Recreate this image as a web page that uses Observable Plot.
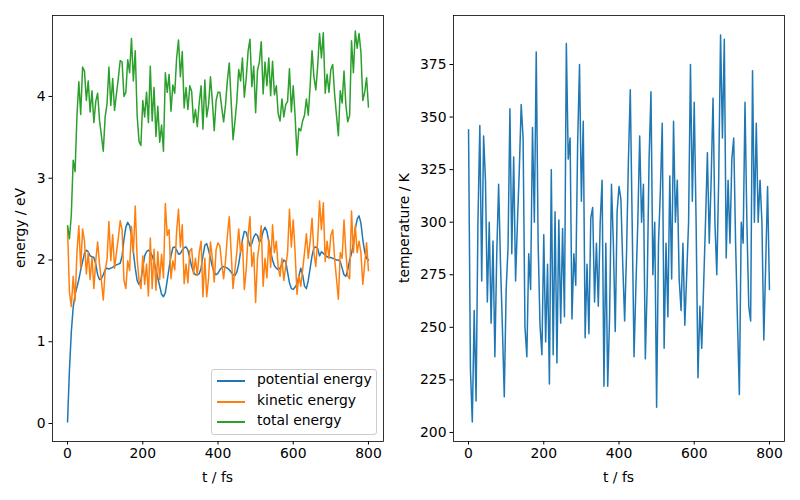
<!DOCTYPE html>
<html>
<head>
<meta charset="utf-8">
<script src="https://cdn.jsdelivr.net/npm/d3@7"></script>
<script src="https://cdn.jsdelivr.net/npm/@observablehq/plot@0.6"></script>
<style>
  body { margin: 0; background: #fff; font-family: "DejaVu Sans", sans-serif; }
  #fig { position: relative; width: 800px; height: 500px; overflow: hidden; background: #fff; }
  .panel { position: absolute; top: 0; }
  .lbl { position: absolute; font-size: 13.9px; color: #000; white-space: nowrap; line-height: 1; }
  .xl { transform: translate(-50%, -50%); }
  .yl { transform: translate(-50%, -50%) rotate(-90deg); }
  #legend { position: absolute; left: 211px; top: 369px; width: 164px; height: 64px;
            border: 1px solid #cccccc; border-radius: 3px; background: rgba(255,255,255,0.8);
            font-size: 13.9px; color: #000; }
  .row { position: absolute; left: 0; height: 20px; width: 100%; }
  .sw { position: absolute; left: 5px; top: 9px; width: 28px; height: 2px; }
  .tx { position: absolute; left: 45px; top: 2px; white-space: nowrap; line-height: 1; }
</style>
</head>
<body>
<div id="fig"></div>
<script>
// ---- data ----
const time = [
  0,5,10,15,20,25,30,35,40,45,
  50,55,60,65,70,75,80,85,90,95,
  100,105,110,115,120,125,130,135,140,145,
  150,155,160,165,170,175,180,185,190,195,
  200,205,210,215,220,225,230,235,240,245,
  250,255,260,265,270,275,280,285,290,295,
  300,305,310,315,320,325,330,335,340,345,
  350,355,360,365,370,375,380,385,390,395,
  400,405,410,415,420,425,430,435,440,445,
  450,455,460,465,470,475,480,485,490,495,
  500,505,510,515,520,525,530,535,540,545,
  550,555,560,565,570,575,580,585,590,595,
  600,605,610,615,620,625,630,635,640,645,
  650,655,660,665,670,675,680,685,690,695,
  700,705,710,715,720,725,730,735,740,745,
  750,755,760,765,770,775,780,785,790,795,
  800
];
const potentialEnergy = [
  0.02,0.65,1.12,1.42,1.58,1.67,1.76,1.88,1.98,2.08,
  2.12,2.10,2.05,2.04,2.03,1.95,1.82,1.76,1.77,1.82,
  1.88,1.90,1.89,1.90,1.91,1.93,1.94,1.95,1.96,2.05,
  2.25,2.40,2.46,2.42,2.30,2.10,1.90,1.75,1.70,1.75,
  1.90,2.05,2.10,2.12,2.10,2.05,1.98,1.88,1.78,1.68,
  1.58,1.55,1.60,1.75,1.90,2.05,2.15,2.16,2.12,2.07,
  2.08,2.12,2.15,2.16,2.12,2.02,1.92,1.85,1.82,1.82,
  1.83,1.90,2.05,2.18,2.20,2.12,2.02,1.92,1.85,1.82,
  1.84,1.88,1.91,1.92,1.91,1.90,1.88,1.85,1.82,1.81,
  1.85,1.95,2.10,2.25,2.35,2.34,2.25,2.17,2.20,2.28,
  2.32,2.30,2.22,2.25,2.35,2.40,2.35,2.22,2.10,2.00,
  1.93,1.90,1.88,1.90,1.95,2.00,1.98,1.85,1.72,1.65,
  1.64,1.67,1.70,1.80,1.90,1.82,1.68,1.65,1.75,1.90,
  2.05,2.15,2.16,2.14,2.05,2.10,2.08,2.06,2.04,2.03,
  2.03,2.02,2.01,2.00,2.00,1.98,1.90,1.82,1.80,1.88,
  2.00,2.08,2.20,2.38,2.50,2.54,2.45,2.25,2.10,2.02,
  2.00
];
const kineticEnergy = [
  2.40,1.61,1.43,1.80,1.50,2.09,2.42,1.90,2.38,2.23,
  1.83,2.09,1.76,2.03,1.65,1.99,2.22,1.95,1.75,1.51,
  1.87,2.01,2.47,1.99,2.31,1.90,2.09,2.27,2.48,2.37,
  1.75,1.65,1.99,1.87,2.41,2.09,2.66,2.02,1.75,1.65,
  2.05,1.70,1.95,1.56,2.27,1.65,2.13,1.63,2.10,1.76,
  2.07,1.78,2.69,2.30,2.37,1.77,1.99,1.88,2.35,2.62,
  2.16,2.43,1.71,1.95,1.72,2.11,2.14,1.83,2.02,1.81,
  2.09,2.23,1.55,2.02,1.55,1.78,2.22,2.02,1.73,2.13,
  2.21,2.17,1.95,1.77,1.99,2.30,2.53,2.09,1.65,1.88,
  2.09,2.38,2.09,2.22,1.64,1.88,2.30,2.53,1.92,2.09,
  1.48,2.02,2.20,2.42,1.68,2.02,1.78,2.25,1.91,2.43,
  2.09,2.23,1.91,1.80,2.02,1.75,1.92,2.09,2.62,2.16,
  2.49,2.09,1.58,1.81,1.68,1.88,2.09,2.32,2.02,2.23,
  2.51,2.09,1.92,2.23,2.72,2.37,2.70,1.98,2.23,2.02,
  2.30,2.37,2.02,1.77,1.52,2.09,2.02,2.49,2.09,1.81,
  1.77,2.60,2.09,2.42,2.09,2.23,2.09,1.70,1.95,2.21,
  1.87
];
const totalEnergy = [
  2.42,2.26,2.55,3.22,3.08,3.76,4.18,3.78,4.36,4.31,
  3.95,4.19,3.81,4.07,3.68,3.94,4.04,3.71,3.52,3.33,
  3.75,3.91,4.36,3.89,4.22,3.83,4.03,4.22,4.44,4.42,
  4.00,4.05,4.45,4.29,4.71,4.19,4.56,3.77,3.45,3.40,
  3.95,3.75,4.05,3.68,4.37,3.70,4.11,3.51,3.88,3.44,
  3.65,3.33,4.29,4.05,4.27,3.82,4.14,4.04,4.47,4.69,
  4.24,4.55,3.86,4.11,3.84,4.13,4.06,3.68,3.84,3.63,
  3.92,4.13,3.60,4.20,3.75,3.90,4.24,3.94,3.58,3.95,
  4.05,4.05,3.86,3.69,3.90,4.20,4.41,3.94,3.47,3.69,
  3.94,4.33,4.19,4.47,3.99,4.22,4.55,4.70,4.12,4.37,
  3.80,4.32,4.42,4.67,4.03,4.42,4.13,4.47,4.01,4.43,
  4.02,4.13,3.79,3.70,3.97,3.75,3.90,3.94,4.34,3.81,
  4.13,3.76,3.28,3.61,3.58,3.70,3.77,3.97,3.77,4.13,
  4.56,4.24,4.08,4.37,4.77,4.47,4.78,4.04,4.27,4.05,
  4.33,4.39,4.03,3.77,3.52,4.07,3.92,4.31,3.89,3.69,
  3.77,4.68,4.29,4.80,4.59,4.77,4.54,3.95,4.05,4.23,
  3.87
];
const temperature = [
  344,230,205,258,215,300,346,272,341,320,
  262,300,252,291,236,285,318,280,250,217,
  268,288,354,285,331,272,300,325,356,340,
  250,236,285,268,345,300,381,290,251,237,
  294,243,280,223,325,237,305,233,301,252,
  297,255,385,330,340,254,285,270,337,375,
  310,348,245,280,247,302,307,262,290,260,
  300,320,222,290,222,255,318,290,248,305,
  317,311,280,253,285,329,363,300,236,270,
  300,341,300,318,235,270,330,362,275,300,
  212,290,315,347,240,290,255,322,273,348,
  300,320,273,258,290,251,275,300,375,310,
  357,300,226,260,240,270,300,333,290,320,
  359,300,275,320,389,340,387,283,320,290,
  330,340,290,253,218,300,290,357,300,260,
  253,372,300,347,300,320,300,244,280,317,
  268
];
const seriesNames = ["potential energy", "kinetic energy", "total energy"];
const seriesColors = ["#1f77b4", "#ff7f0e", "#2ca02c"];
const timeTicks = [0, 200, 400, 600, 800];
const energyTicks = [0, 1, 2, 3, 4];
const temperatureTicks = [200, 225, 250, 275, 300, 325, 350, 375];
const xLabel = "t / fs";
const energyLabel = "energy / eV";
const temperatureLabel = "temperature / K";

// ---- drawing ----
const fig = document.getElementById("fig");
const style = { fontSize: "13.9px", fontFamily: "DejaVu Sans, sans-serif", color: "black", background: "transparent", overflow: "visible" };
const axisX = { domain: [-40, 840], ticks: timeTicks, tickSize: 3.5, tickPadding: 3.5, label: null, tickFormat: d3.format("d") };

const energyRows = [potentialEnergy, kineticEnergy, totalEnergy].map(arr => time.map((t, i) => ({ t, v: arr[i] })));

const left = Plot.plot({
  width: 400, height: 500,
  marginLeft: 52, marginRight: 17, marginTop: 15, marginBottom: 59,
  style,
  x: axisX,
  y: { domain: [-0.22, 4.99], ticks: energyTicks, tickSize: 3.5, tickPadding: 3.5, label: null, tickFormat: d3.format("d") },
  marks: [
    ...energyRows.map((rows, k) => Plot.line(rows, { x: "t", y: "v", stroke: seriesColors[k], strokeWidth: 1.5 })),
    Plot.frame({ stroke: "black", strokeWidth: 0.8 })
  ]
});
left.classList.add("panel");
left.style.left = "0px";
fig.appendChild(left);

const tempRows = time.map((t, i) => ({ t, v: temperature[i] }));
const right = Plot.plot({
  width: 400, height: 500,
  marginLeft: 53, marginRight: 16, marginTop: 15, marginBottom: 59,
  style,
  x: axisX,
  y: { domain: [195.7, 398.3], ticks: temperatureTicks, tickSize: 3.5, tickPadding: 3.5, label: null, tickFormat: d3.format("d") },
  marks: [
    Plot.line(tempRows, { x: "t", y: "v", stroke: seriesColors[0], strokeWidth: 1.5 }),
    Plot.frame({ stroke: "black", strokeWidth: 0.8 })
  ]
});
right.classList.add("panel");
right.style.left = "400px";
fig.appendChild(right);

function label(text, x, y, cls) {
  const d = document.createElement("div");
  d.className = "lbl " + cls;
  d.style.left = x + "px";
  d.style.top = y + "px";
  d.textContent = text;
  fig.appendChild(d);
}
label(xLabel, 217.5, 478, "xl");
label(xLabel, 618.5, 478, "xl");
label(energyLabel, 21, 228, "yl");
label(temperatureLabel, 405, 228, "yl");

const lg = document.createElement("div");
lg.id = "legend";
seriesNames.forEach((name, k) => {
  const r = document.createElement("div");
  r.className = "row";
  r.style.top = Math.round(1 + k * 20.5) + "px";
  const sw = document.createElement("div");
  sw.className = "sw";
  sw.style.background = seriesColors[k];
  const tx = document.createElement("div");
  tx.className = "tx";
  tx.textContent = name;
  r.appendChild(sw); r.appendChild(tx);
  lg.appendChild(r);
});
fig.appendChild(lg);
</script>
</body>
</html>
